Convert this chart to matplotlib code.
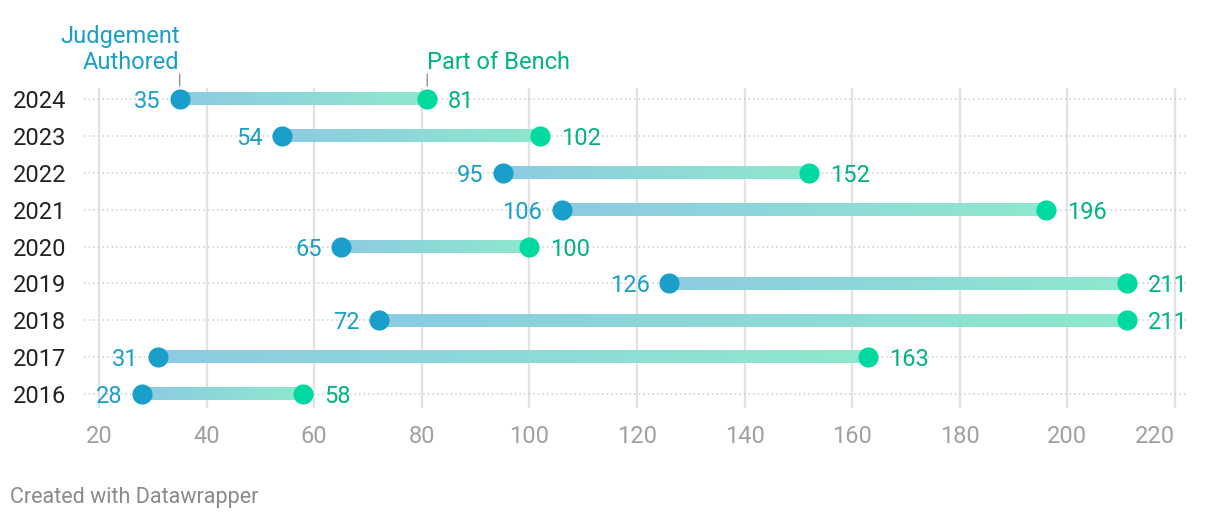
import numpy as np
import matplotlib.pyplot as plt
from matplotlib.colors import LinearSegmentedColormap

plt.rcParams['font.family'] = ['Roboto', 'DejaVu Sans']

years = ['2024', '2023', '2022', '2021', '2020', '2019', '2018', '2017', '2016']
authored = [35, 54, 95, 106, 65, 126, 72, 31, 28]
bench = [81, 102, 152, 196, 100, 211, 211, 163, 58]
x_ticks = [20, 40, 60, 80, 100, 120, 140, 160, 180, 200, 220]

blue = '#1a9fcb'
green = '#00d9a0'
blue_txt = '#1a9fcb'
green_txt = '#00b383'
fs = 17

W, H = 1220, 522
fig = plt.figure(figsize=(W / 100, H / 100), dpi=100)
ax = fig.add_axes([84 / W, 1 - 408 / H, (1188 - 84) / W, (408 - 88) / H])

for t in x_ticks:
    ax.axvline(t, color='#e2e2e2', lw=1.6, zorder=0)
for i in range(len(years)):
    ax.axhline(i, color='#cccccc', lw=1.1, ls=(0, (1, 2)), zorder=0)

grad = LinearSegmentedColormap.from_list('g', ['#8ccbe2', '#8ee8cd'])
gimg = np.linspace(0, 1, 256).reshape(1, -1)
half = 0.17
for i, (a, b) in enumerate(zip(authored, bench)):
    ax.imshow(gimg, cmap=grad, extent=(a, b, i + half, i - half), aspect='auto',
              interpolation='bilinear', zorder=1)
    ax.plot(a, i, 'o', ms=14.5, color=blue, mec='none', zorder=3)
    ax.plot(b, i, 'o', ms=14.5, color=green, mec='none', zorder=3)
    ax.annotate(str(a), (a, i), xytext=(-14, 0), textcoords='offset points',
                ha='right', va='center_baseline', color=blue_txt, fontsize=fs)
    ax.annotate(str(b), (b, i), xytext=(15, 0), textcoords='offset points',
                ha='left', va='center_baseline', color=green_txt, fontsize=fs)

ax.set_xlim(20 - 15 / 5.37, 220 + 13 / 5.37)
ax.set_ylim(len(years) - 1 + 0.38, -0.3)

ax.set_yticks(range(len(years)))
ax.set_yticklabels(years, fontsize=fs, color='#222222', va='center_baseline')
ax.set_xticks(x_ticks)
ax.set_xticklabels([str(t) for t in x_ticks], fontsize=fs, color='#a0a0a0')
ax.get_xticklabels()[-1].set_ha('right')
ax.tick_params(axis='y', length=0, pad=13)
ax.tick_params(axis='x', length=0, pad=12)
for s in ax.spines.values():
    s.set_visible(False)

# series headers above the 2024 row, with a short grey tick down to the dots
px = 0.72  # points per pixel at dpi 100
for xv, label, ha, col in [(authored[0], 'Judgement\nAuthored', 'right', blue_txt),
                           (bench[0], 'Part of Bench', 'left', green_txt)]:
    ax.annotate(label, (xv, 0), xytext=(0, 30 * px), textcoords='offset points',
                ha=ha, va='baseline', multialignment='right', color=col, fontsize=fs,
                linespacing=1.15, annotation_clip=False)
    ax.annotate('', (xv, 0), xytext=(0, 25 * px), textcoords='offset points',
                annotation_clip=False,
                arrowprops=dict(arrowstyle='-', color='#888888', lw=0.9,
                                shrinkA=0, shrinkB=13 * px))

fig.text(10 / W, 1 - 497 / H, 'Created with Datawrapper', fontsize=15.5, color='#8a8a8a',
         ha='left', va='center')

fig.savefig('out.png', dpi=100)
